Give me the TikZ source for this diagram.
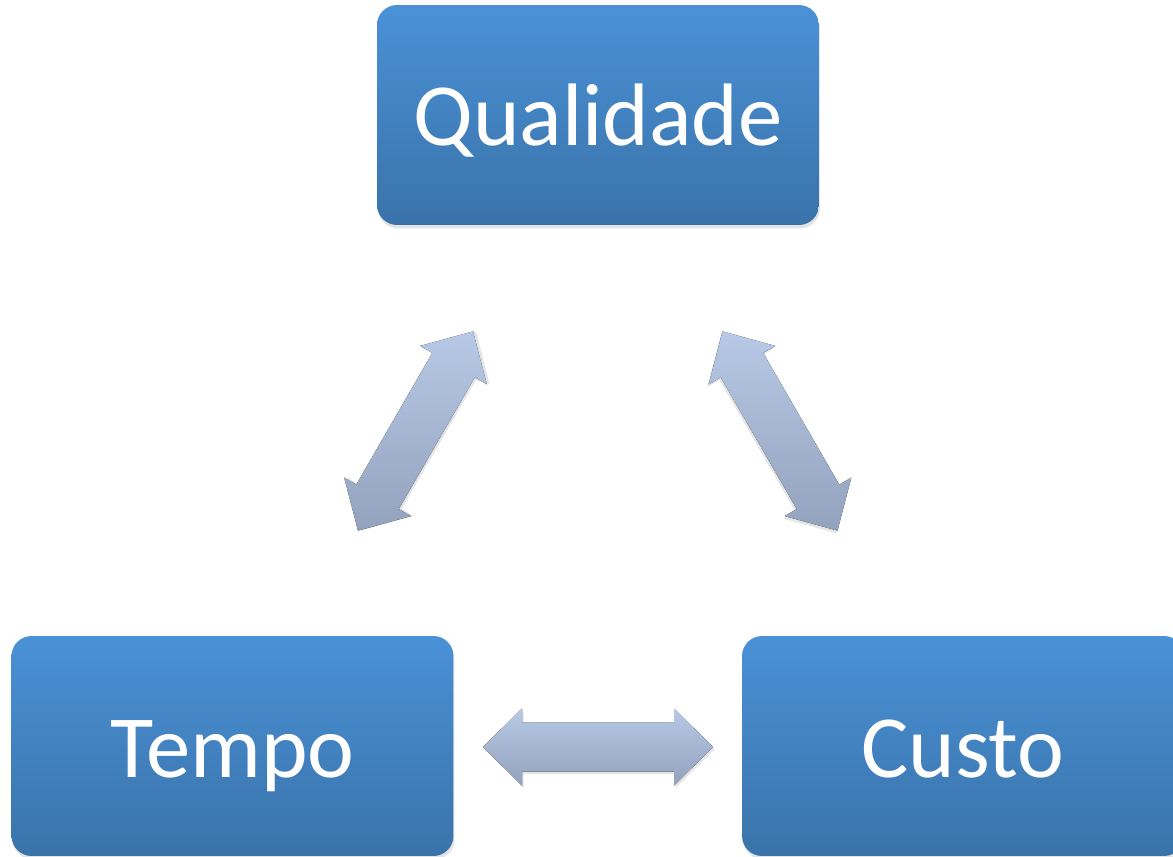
\documentclass[tikz,border=0pt]{standalone}
\usepackage{fontspec}
\setmainfont{Carlito}
\usetikzlibrary{positioning, shadows}
\definecolor{boxtop}{HTML}{4A91D6}
\definecolor{boxbot}{HTML}{3A73AA}
\definecolor{arrtop}{HTML}{B7C9E6}
\definecolor{arrbot}{HTML}{93A2BD}

\tikzset{
  goalbox/.style={rectangle, rounded corners=0.4cm, minimum width=8.84cm, minimum height=4.4cm,
    top color=boxtop, bottom color=boxbot, text=white, inner sep=0pt,
    font=\fontsize{50.5}{60}\selectfont, text height=1.24cm, text depth=0cm,
    drop shadow={opacity=0.22, shadow xshift=0.02cm, shadow yshift=-0.07cm}},
  arrowfill/.style={top color=arrtop, bottom color=arrbot},
  pics/blockarrow/.style={code={
    % soft shadow, then the arrow itself
    \fill[black, opacity=0.10, shift={(1.5,2.5)}]
      (-115,0) -- (-76,-38.5) -- (-76,-24.5) -- (76,-24.5) -- (76,-38.5) -- (115,0)
      -- (76,38.5) -- (76,24.5) -- (-76,24.5) -- (-76,38.5) -- cycle;
    \fill[arrowfill]
      (-115,0) -- (-76,-38.5) -- (-76,-24.5) -- (76,-24.5) -- (76,-38.5) -- (115,0)
      -- (76,38.5) -- (76,24.5) -- (-76,24.5) -- (-76,38.5) -- cycle;
  }}
}

\begin{document}
\begin{tikzpicture}[x=0.02cm, y=-0.02cm]
\useasboundingbox (0,0) rectangle (1173,856);

% The three constraints
\node[goalbox] (qual)  at (598,115)   {Qualidade};
\node[goalbox] (tempo) at (232.5,746) {Tempo};
\node[goalbox] (custo) at (963,746)   {Custo};

% Double-headed block arrows between them
\pic[rotate=60]  (qualtempo) at (415.5,431) {blockarrow};
\pic[rotate=-60] (qualcusto) at (780,431)   {blockarrow};
\pic             (tempocusto) at (598,747)  {blockarrow};

\end{tikzpicture}
\end{document}
